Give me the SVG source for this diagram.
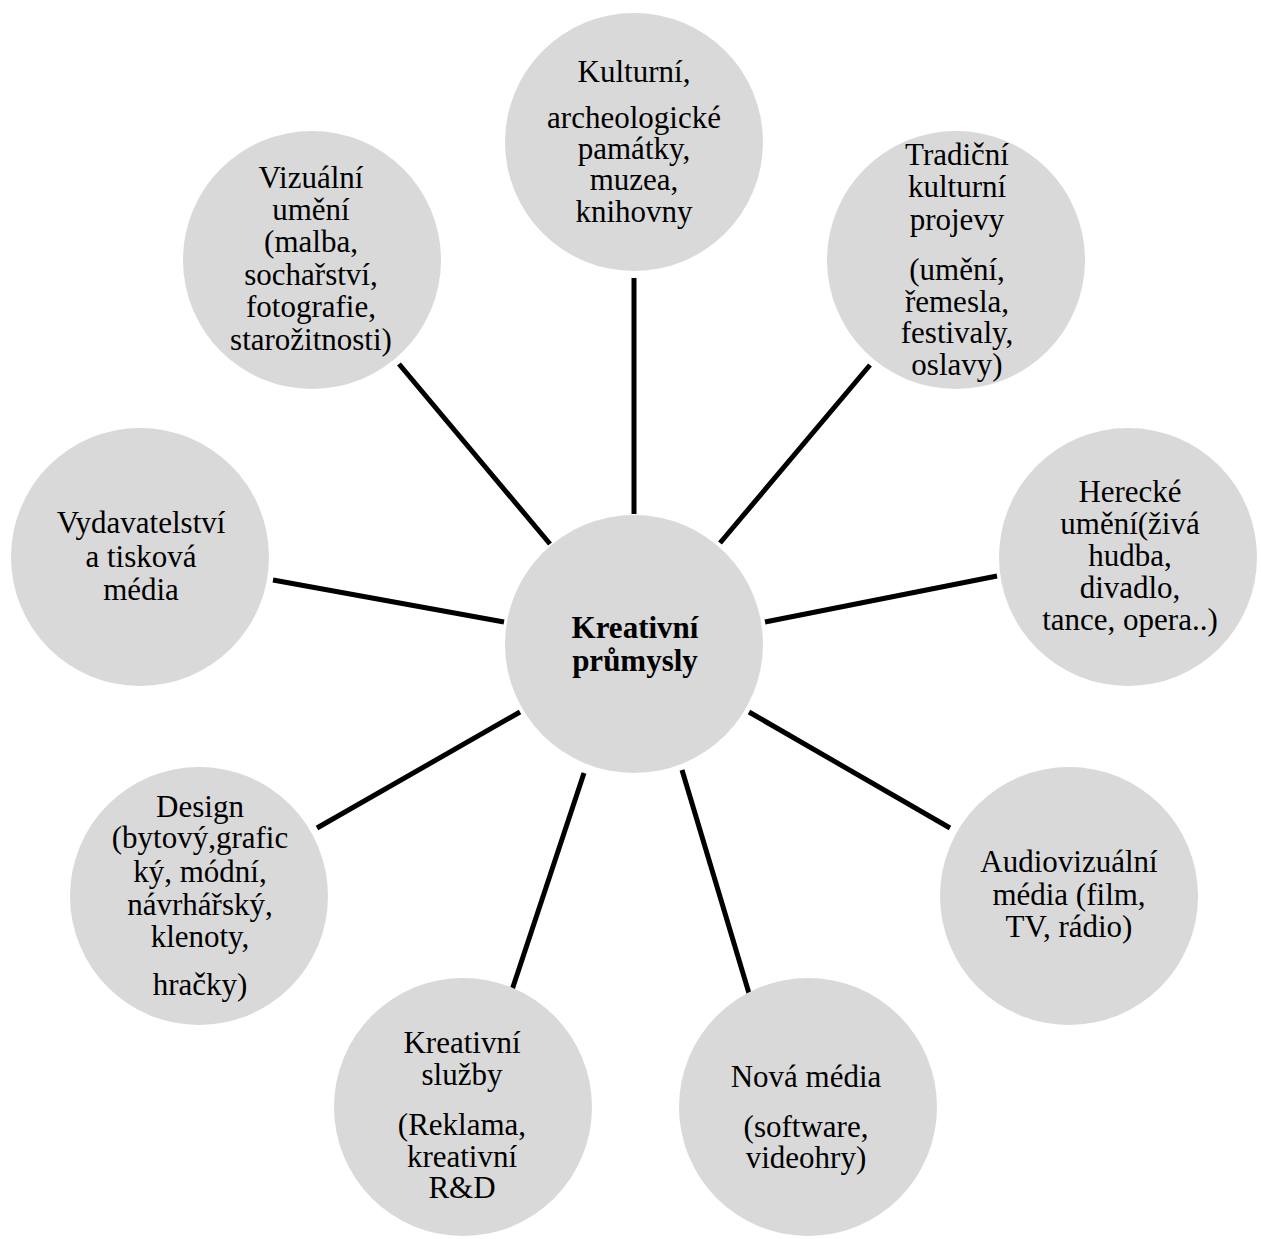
<svg xmlns="http://www.w3.org/2000/svg" width="1261" height="1239" viewBox="0 0 1261 1239">
<style>
.n{fill:#d9d9d9}
.t{font-family:"Liberation Serif","Times New Roman",serif;font-size:31px;fill:#000;text-anchor:middle}
.b{font-weight:bold}
.c{stroke:#000;stroke-width:5;fill:none}
</style>
<rect width="1261" height="1239" fill="#fff"/>
<g id="connectors">
<line class="c" x1="634" y1="278" x2="634" y2="514"/>
<line class="c" x1="870" y1="365" x2="720" y2="543"/>
<line class="c" x1="997" y1="576" x2="765" y2="622"/>
<line class="c" x1="950" y1="828" x2="749" y2="712"/>
<line class="c" x1="682" y1="770" x2="757" y2="1020"/>
<line class="c" x1="584" y1="773" x2="512" y2="990"/>
<line class="c" x1="520" y1="712" x2="317" y2="828"/>
<line class="c" x1="504" y1="622" x2="273" y2="580"/>
<line class="c" x1="550" y1="544" x2="399" y2="364"/>
</g>
<g id="center">
<circle class="n" cx="634" cy="644" r="129"/>
<text class="t b" x="635" y="638">Kreativní</text>
<text class="t b" x="635" y="671">průmysly</text>
</g>
<g id="kulturni">
<circle class="n" cx="634" cy="142" r="129"/>
<text class="t" x="634" y="82">Kulturní,</text>
<text class="t" x="634" y="128">archeologické</text>
<text class="t" x="634" y="159">památky,</text>
<text class="t" x="634" y="190">muzea,</text>
<text class="t" x="634" y="222">knihovny</text>
</g>
<g id="tradicni">
<circle class="n" cx="956" cy="260" r="129"/>
<text class="t" x="957" y="165">Tradiční</text>
<text class="t" x="957" y="197">kulturní</text>
<text class="t" x="957" y="230">projevy</text>
<text class="t" x="957" y="280">(umění,</text>
<text class="t" x="957" y="312">řemesla,</text>
<text class="t" x="957" y="343">festivaly,</text>
<text class="t" x="957" y="375">oslavy)</text>
</g>
<g id="herecke">
<circle class="n" cx="1128" cy="557" r="129"/>
<text class="t" x="1130" y="502">Herecké</text>
<text class="t" x="1130" y="534">umění(živá</text>
<text class="t" x="1130" y="566">hudba,</text>
<text class="t" x="1130" y="598">divadlo,</text>
<text class="t" x="1130" y="630">tance, opera..)</text>
</g>
<g id="audiovizualni">
<circle class="n" cx="1069" cy="896" r="129"/>
<text class="t" x="1069" y="872">Audiovizuální</text>
<text class="t" x="1069" y="905">média (film,</text>
<text class="t" x="1069" y="937">TV, rádio)</text>
</g>
<g id="nova-media">
<circle class="n" cx="808" cy="1107" r="129"/>
<text class="t" x="806" y="1087">Nová média</text>
<text class="t" x="806" y="1137">(software,</text>
<text class="t" x="806" y="1168">videohry)</text>
</g>
<g id="kreativni-sluzby">
<circle class="n" cx="463" cy="1107" r="129"/>
<text class="t" x="462" y="1053">Kreativní</text>
<text class="t" x="462" y="1085">služby</text>
<text class="t" x="462" y="1135">(Reklama,</text>
<text class="t" x="462" y="1167">kreativní</text>
<text class="t" x="462" y="1198">R&amp;D</text>
</g>
<g id="design">
<circle class="n" cx="199" cy="896" r="129"/>
<text class="t" x="200" y="817">Design</text>
<text class="t" x="200" y="848">(bytový,grafic</text>
<text class="t" x="200" y="882">ký, módní,</text>
<text class="t" x="200" y="915">návrhářský,</text>
<text class="t" x="200" y="947">klenoty,</text>
<text class="t" x="200" y="995">hračky)</text>
</g>
<g id="vydavatelstvi">
<circle class="n" cx="140" cy="557" r="129"/>
<text class="t" x="141" y="533">Vydavatelství</text>
<text class="t" x="141" y="567">a tisková</text>
<text class="t" x="141" y="600">média</text>
</g>
<g id="vizualni">
<circle class="n" cx="312" cy="260" r="129"/>
<text class="t" x="311" y="188">Vizuální</text>
<text class="t" x="311" y="220">umění</text>
<text class="t" x="311" y="252">(malba,</text>
<text class="t" x="311" y="285">sochařství,</text>
<text class="t" x="311" y="317">fotografie,</text>
<text class="t" x="311" y="350">starožitnosti)</text>
</g>
</svg>
